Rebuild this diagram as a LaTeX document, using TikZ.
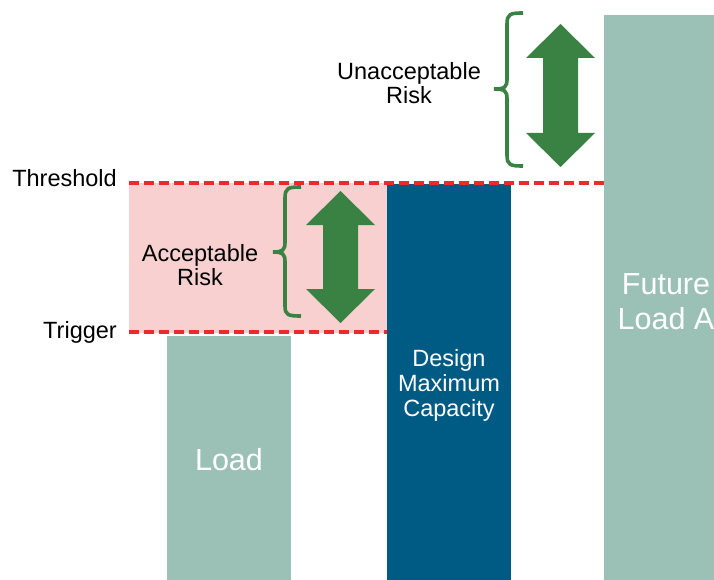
\documentclass[tikz,border=0pt]{standalone}
\usepackage{fontspec}
\setmainfont{Liberation Sans}
\definecolor{teal1}{HTML}{9BC1B7}
\definecolor{navy1}{HTML}{005B84}
\definecolor{pink1}{HTML}{F8D0D0}
\definecolor{red1}{HTML}{EC2A2E}
\definecolor{green1}{HTML}{3A8244}
\tikzset{
  bar/.style={fill=#1, draw=none},
  limitline/.style={draw=red1, line width=3.2pt, dash pattern=on 10pt off 5pt},
  bracepath/.style={draw=green1, line width=3.6pt},
  dblarrow/.style={fill=green1, draw=none},
  lbl/.style={font=\fontsize{23.5}{23.5}\selectfont, text=black, inner sep=0pt},
  barlbl/.style={font=\fontsize{23.5}{25}\selectfont, text=white, align=center, inner sep=0pt},
  biglbl/.style={font=\fontsize{30.5}{35}\selectfont, text=white, align=center, inner sep=0pt}
}
\begin{document}
\begin{tikzpicture}[x=1pt,y=-1pt]
\useasboundingbox (0,0) rectangle (714,580);
\clip (0,0) rectangle (714,580);
% pink zone
\fill[pink1] (129,183) rectangle (387,333);
% bars
\fill[bar=teal1] (167,336) rectangle (291,580);
\fill[bar=navy1] (387,184) rectangle (511,580);
\fill[bar=teal1] (604,15) rectangle (720,580);
% limit lines
\coordinate (thL) at (129,183);
\coordinate (thR) at (604,183);
\coordinate (trL) at (129,332);
\coordinate (trR) at (387,332);
\draw[limitline] (thL) -- (thR);
\draw[limitline] (trL) -- (trR);
% labels
\node[lbl, anchor=base east] (threshold) at (117,186) {Threshold};
\node[lbl, anchor=base east] (trigger) at (117,338) {Trigger};
\node[lbl, align=center] (acc) at (200,265) {Acceptable\\Risk};
\node[lbl, align=center] (unacc) at (409,83) {Unacceptable\\Risk};
\node[barlbl] (dmc) at (449,385) {Design\\Maximum\\Capacity};
\node[biglbl] (load) at (229,460) {Load};
\node[biglbl] (future) at (666,302) {Future\\Load A};
% braces
\draw[bracepath] (301,187) .. controls (288,187) and (285,188) .. (285,198) -- (285,242)
  .. controls (285,250) and (283,252) .. (273,252)
  .. controls (283,252) and (285,254) .. (285,262) -- (285,306)
  .. controls (285,315) and (288,316) .. (301,316);
\draw[bracepath] (523,13) .. controls (510,13) and (507,14) .. (507,24) -- (507,79)
  .. controls (507,87) and (505,89) .. (494,89)
  .. controls (505,89) and (507,91) .. (507,99) -- (507,155)
  .. controls (507,165) and (510,166) .. (523,166);
% double arrows
\fill[dblarrow] (340.5,191) -- (375,225) -- (358,225) -- (358,289) -- (375,289) -- (340.5,323)
  -- (306,289) -- (323,289) -- (323,225) -- (306,225) -- cycle;
\fill[dblarrow] (560.5,24) -- (595,58) -- (578,58) -- (578,133) -- (595,133) -- (560.5,167)
  -- (526,133) -- (543,133) -- (543,58) -- (526,58) -- cycle;
\end{tikzpicture}
\end{document}
